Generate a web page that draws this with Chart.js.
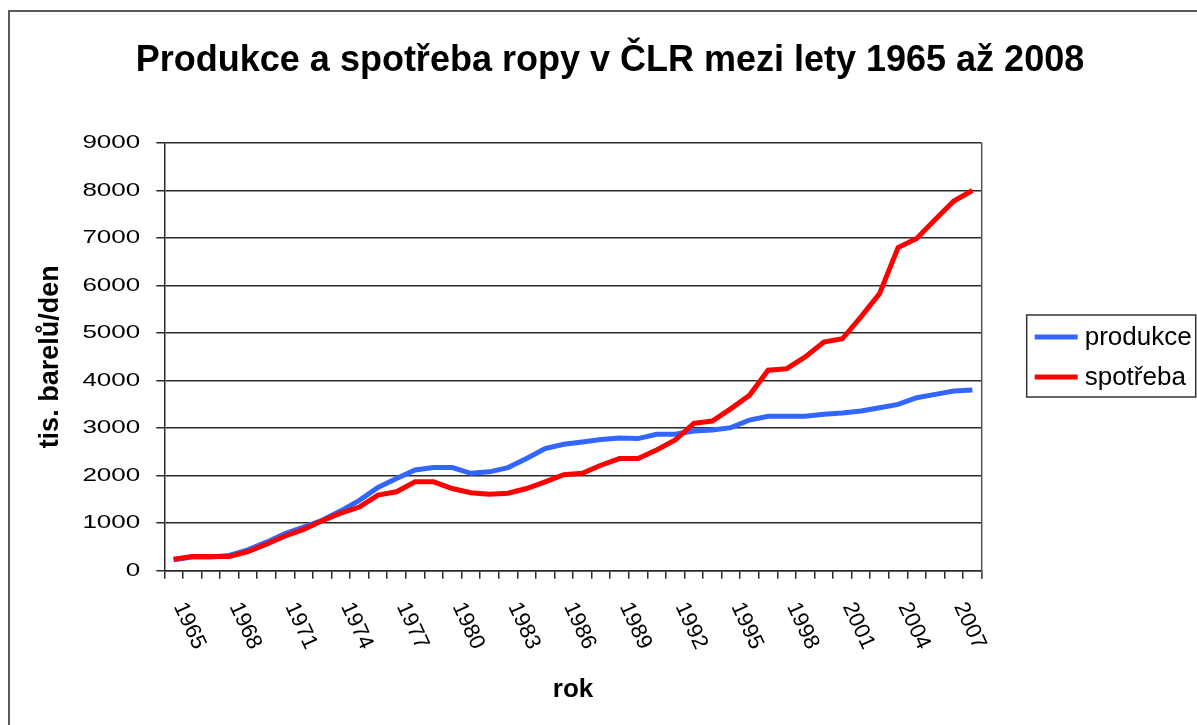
<!DOCTYPE html>
<html lang="cs">
<head>
<meta charset="utf-8">
<title>Produkce a spotřeba ropy v ČLR</title>
<script src="https://cdn.jsdelivr.net/npm/chart.js@4.4.1/dist/chart.umd.min.js"></script>
<style>
  html, body { margin: 0; padding: 0; background: #fff; }
  #wrap { position: relative; width: 1197px; height: 725px; }
</style>
</head>
<body>
<div id="wrap"><canvas id="oilChart"></canvas></div>
<script>
// data (thousand barrels per day)
const years = [1965, 1966, 1967, 1968, 1969, 1970, 1971, 1972, 1973, 1974,
               1975, 1976, 1977, 1978, 1979, 1980, 1981, 1982, 1983, 1984,
               1985, 1986, 1987, 1988, 1989, 1990, 1991, 1992, 1993, 1994,
               1995, 1996, 1997, 1998, 1999, 2000, 2001, 2002, 2003, 2004,
               2005, 2006, 2007, 2008];
const produkce = [230, 290, 290, 320, 440, 600, 780, 920, 1060, 1260,
                  1480, 1750, 1940, 2120, 2170, 2170, 2050, 2080, 2170, 2360,
                  2570, 2660, 2710, 2760, 2790, 2780, 2870, 2870, 2940, 2960,
                  3010, 3170, 3250, 3250, 3250, 3290, 3320, 3360, 3430, 3500,
                  3640, 3710, 3780, 3800];
const spotreba = [240, 300, 300, 300, 400, 560, 730, 870, 1050, 1210,
                  1340, 1590, 1660, 1870, 1870, 1730, 1640, 1610, 1630, 1730,
                  1870, 2020, 2050, 2220, 2360, 2360, 2540, 2750, 3100, 3150,
                  3410, 3690, 4220, 4250, 4500, 4810, 4880, 5340, 5830, 6800,
                  6990, 7390, 7780, 8000];
const seriesNames = ['produkce', 'spotřeba'];
const yMax = 9000;
const yStep = 1000;
const labelEvery = 3;
const chartTitle = 'Produkce a spotřeba ropy v ČLR mezi lety 1965 až 2008';
const xTitle = 'rok';
const yTitle = 'tis. barelů/den';

const FONT = '"Liberation Sans", Arial, sans-serif';
const LINE_DARK = '#2b2b2b';

Chart.defaults.font.family = FONT;
Chart.defaults.color = '#000';

// frame, title, tick labels and the boxed legend
const decor = {
  id: 'decor',
  beforeDraw(chart) {
    const ctx = chart.ctx;
    ctx.save();
    ctx.fillStyle = '#fff';
    ctx.fillRect(0, 0, chart.width, chart.height);
    ctx.strokeStyle = '#5a5a5a';
    ctx.lineWidth = 2;
    ctx.beginPath();
    ctx.moveTo(9, chart.height);
    ctx.lineTo(9, 11);
    ctx.lineTo(chart.width, 11);
    ctx.stroke();
    ctx.restore();
  },
  afterDraw(chart) {
    const ctx = chart.ctx;
    const area = chart.chartArea;
    const xs = chart.scales.x;
    const ys = chart.scales.y;
    ctx.save();

    // right edge of the plot
    ctx.strokeStyle = '#555';
    ctx.lineWidth = 1.5;
    ctx.beginPath();
    ctx.moveTo(area.right, area.top);
    ctx.lineTo(area.right, area.bottom + 8);
    ctx.stroke();

    // title
    ctx.fillStyle = '#000';
    ctx.font = 'bold 36px ' + FONT;
    ctx.textAlign = 'center';
    ctx.textBaseline = 'alphabetic';
    ctx.fillText(chartTitle, 610, 71);

    // y tick labels (wide, like the original)
    ctx.font = '18.6px ' + FONT;
    ctx.textAlign = 'right';
    ctx.textBaseline = 'middle';
    ys.ticks.forEach((t, i) => {
      ctx.save();
      ctx.translate(area.left - 24, ys.getPixelForTick(i));
      ctx.scale(1.4, 1);
      ctx.fillText(String(t.value), 0, 0);
      ctx.restore();
    });

    // x tick labels, rotated clockwise
    ctx.font = '22px ' + FONT;
    ctx.textAlign = 'left';
    ctx.textBaseline = 'middle';
    years.forEach((yr, i) => {
      if (i % labelEvery !== 0) return;
      ctx.save();
      ctx.translate(xs.getPixelForValue(i) + 5.5, area.bottom + 33);
      ctx.rotate(65 * Math.PI / 180);
      ctx.fillText(String(yr), 0, 0);
      ctx.restore();
    });

    // legend
    const lx = area.right + 45, ly = 315, lw = 169, lh = 82;
    ctx.strokeStyle = '#333';
    ctx.lineWidth = 1.5;
    ctx.strokeRect(lx, ly, lw, lh);
    ctx.font = '26px ' + FONT;
    ctx.textAlign = 'left';
    ctx.textBaseline = 'middle';
    chart.data.datasets.forEach((ds, i) => {
      const cy = ly + 22 + i * 40;
      ctx.strokeStyle = ds.borderColor;
      ctx.lineWidth = 5;
      ctx.beginPath();
      ctx.moveTo(lx + 8, cy);
      ctx.lineTo(lx + 51, cy);
      ctx.stroke();
      ctx.fillStyle = '#000';
      ctx.fillText(ds.label, lx + 58, cy + 1);
    });
    ctx.restore();
  }
};

new Chart(document.getElementById('oilChart'), {
  type: 'line',
  data: {
    labels: years,
    datasets: [{
      label: seriesNames[0],
      data: produkce,
      borderColor: '#3366ff',
      backgroundColor: '#3366ff',
      borderWidth: 5,
      pointRadius: 0,
      tension: 0,
      order: 1
    }, {
      label: seriesNames[1],
      data: spotreba,
      borderColor: '#ff0000',
      backgroundColor: '#ff0000',
      borderWidth: 5,
      pointRadius: 0,
      tension: 0,
      order: 0
    }]
  },
  options: {
    responsive: true,
    maintainAspectRatio: false,
    animation: false,
    events: [],
    layout: {
      padding: { left: 20, top: 143, right: 215.3, bottom: 10 }
    },
    plugins: {
      legend: { display: false },
      title: { display: false },
      tooltip: { enabled: false }
    },
    scales: {
      x: {
        type: 'category',
        offset: true,
        grid: {
          drawOnChartArea: false,
          offset: true,
          drawTicks: true,
          tickLength: 8,
          color: LINE_DARK,
          lineWidth: 1.5
        },
        border: { display: true, color: LINE_DARK, width: 1.5 },
        ticks: { display: false },
        title: {
          display: true,
          text: xTitle,
          font: { size: 26, weight: 'bold' },
          padding: { top: 95.7, bottom: 9.4 }
        }
      },
      y: {
        min: 0,
        max: yMax,
        grid: {
          drawTicks: true,
          tickLength: 8,
          color: LINE_DARK,
          lineWidth: 1.5
        },
        border: { display: true, color: LINE_DARK, width: 1.5 },
        ticks: { display: false, stepSize: yStep },
        title: {
          display: true,
          text: yTitle,
          font: { size: 27, weight: 'bold' },
          padding: { top: 14.8, bottom: 89.1 }
        }
      }
    }
  },
  plugins: [decor]
});
</script>
</body>
</html>
